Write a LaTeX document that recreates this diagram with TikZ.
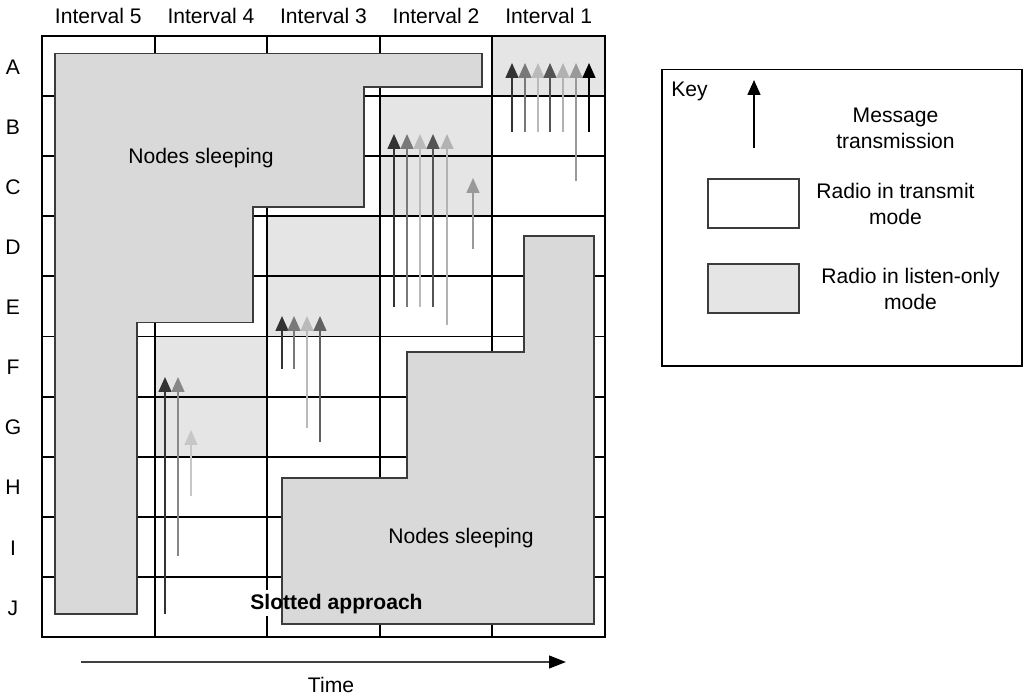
\documentclass[tikz,border=0pt]{standalone}
\usepackage{fontspec}
\setmainfont{Liberation Sans}
\usetikzlibrary{arrows.meta}
\definecolor{listen}{RGB}{229,229,229}
\definecolor{sleep}{RGB}{217,217,217}
\definecolor{edge}{RGB}{60,60,60}
\tikzset{
  lbl/.style={font=\fontsize{15}{18.5}\selectfont,inner sep=0pt,align=center},
  msg/.style={line width=1.4pt,-{Triangle[width=9pt,length=10.5pt]}},
  gridline/.style={line width=1.3pt},
  sleepzone/.style={draw=edge,fill=sleep,line width=1pt}
}
\begin{document}
\begin{tikzpicture}[x=0.025cm,y=-0.025cm]
\useasboundingbox (0,0) rectangle (1025,695);
% listen-only cells
\fill[listen] (492.4,36) rectangle (605,96.1);
\fill[listen] (379.8,96.1) rectangle (492.4,216.3);
\fill[listen] (267.2,216.3) rectangle (379.8,336.5);
\fill[listen] (154.6,336.5) rectangle (267.2,456.7);
% grid
\foreach \i in {1,...,9}
  \draw[gridline] (42,{36+\i*60.1}) -- (605,{36+\i*60.1});
\foreach \i in {1,...,4}
  \draw[gridline] ({42+\i*112.6},36) -- ({42+\i*112.6},637);
\draw[line width=1.6pt] (42,36) rectangle (605,637);
\fill[white] (247,590) rectangle (282,616);
% sleeping nodes
\draw[sleepzone] (55,53.7) -- (482,53.7) -- (482,87) -- (364,87) -- (364,207) -- (253,207)
  -- (253,322.7) -- (137,322.7) -- (137,614) -- (55,614) -- cycle;
\draw[sleepzone] (524,236) -- (594,236) -- (594,624) -- (282,624) -- (282,478) -- (407,478)
  -- (407,352) -- (524,352) -- cycle;
% message transmissions
\foreach \x/\ya/\yb/\c in {512/132/63/black!80, 525/132/63/black!53, 538/132/63/black!27,
    550/132/63/black!67, 563/132/63/black!30, 576/181/63/black!40, 589/132/63/black,
    394/307/134/black!80, 407/307/134/black!53, 420/307/134/black!27,
    433/307/134/black!67, 447/325/134/black!30, 473/249/178/black!40,
    282/369/316/black!80, 294/369/316/black!53, 307/428/316/black!27, 320/442/316/black!62,
    165/614/377/black!80, 178/556/377/black!47, 191/496/430/black!22}
  \draw[msg,color=\c] (\x,\ya) -- (\x,\yb);
% labels
\foreach \k in {1,...,5}
  \node[lbl] (int\k) at ({605-(\k-0.5)*112.6},16) {Interval \k};
\foreach \r [count=\i from 0] in {A,B,C,D,E,F,G,H,I,J}
  \node[lbl] (row\r) at (13,{67+\i*60.1}) {\r};
\node[lbl] (sleepup) at (201,158) {Nodes sleeping};
\node[lbl] (sleepdown) at (461,538) {Nodes sleeping};
\node[lbl,font=\fontsize{15}{18.5}\selectfont\bfseries] (slotted) at (336.5,604) {Slotted approach};
% time axis
\coordinate (t0) at (81,662);
\coordinate (t1) at (566,662);
\draw[line width=1.4pt,black!75,-{Triangle[width=9pt,length=12pt,black]}] (t0) -- (t1);
\node[lbl] (time) at (331,685) {Time};
% key
\draw[line width=1pt] (662,69.5) rectangle (1022,366);
\node[lbl,anchor=west] (key) at (671,91) {Key};
\coordinate (k0) at (754,148);
\coordinate (k1) at (754,80);
\draw[msg,black] (k0) -- (k1);
\node[lbl] (msgtxt) at (895.5,128.5) {Message\\transmission};
\draw[draw=edge,fill=white,line width=1pt] (708,179) rectangle (799,228);
\node[lbl] (txtxt) at (895.5,204) {Radio in transmit\\mode};
\draw[draw=edge,fill=listen,line width=1pt] (708,264) rectangle (799,313);
\node[lbl] (lstxt) at (910.5,289) {Radio in listen-only\\mode};
\end{tikzpicture}
\end{document}
